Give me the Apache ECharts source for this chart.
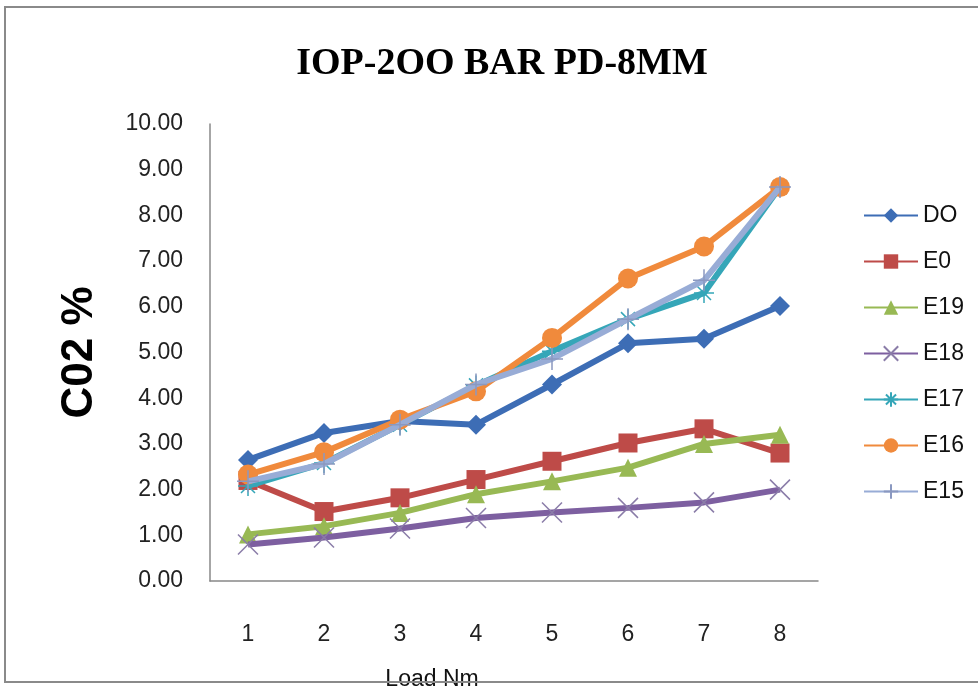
<!DOCTYPE html>
<html>
<head>
<meta charset="utf-8">
<script src="https://cdn.jsdelivr.net/npm/echarts@6/dist/echarts.min.js"></script>
<style>html,body{margin:0;padding:0;background:#fff}#c{width:978px;height:692px}</style>
</head>
<body>
<div id="c"></div>
<script>
const categories = ['1','2','3','4','5','6','7','8'];
const seriesNames = ['DO','E0','E19','E18','E17','E16','E15'];
const DO  = [2.65, 3.24, 3.5, 3.42, 4.3, 5.2, 5.3, 6.02];
const E0  = [2.2, 1.52, 1.82, 2.22, 2.62, 3.02, 3.33, 2.8];
const E19 = [1.02, 1.2, 1.49, 1.9, 2.18, 2.48, 3.0, 3.2];
const E18 = [0.8, 0.95, 1.15, 1.38, 1.5, 1.6, 1.72, 2.0];
const E17 = [2.08, 2.58, 3.42, 4.28, 5.03, 5.73, 6.3, 8.62];
const E16 = [2.33, 2.82, 3.53, 4.15, 5.32, 6.62, 7.32, 8.62];
const E15 = [2.18, 2.56, 3.42, 4.3, 4.86, 5.73, 6.58, 8.62];
const yTicks = ['0.00','1.00','2.00','3.00','4.00','5.00','6.00','7.00','8.00','9.00','10.00'];

const colors = ['#3d6db5', '#be4b48', '#98b954', '#7d5fa0', '#35a6b8', '#f08a3c', '#98acd6'];
const xPath = 'path://M0,0L10,10M10,0L0,10';
const starPath = 'path://M5,0L5,10M0,5L10,5M1.5,1.5L8.5,8.5M8.5,1.5L1.5,8.5';
const plusPath = 'path://M5,0L5,10M0,5L10,5';
const symbols = ['diamond', 'rect', 'triangle', xPath, starPath, 'circle', plusPath];
const sizes = [20, 19, 18, 20, 20, 20, 22];
const dataArr = [DO, E0, E19, E18, E17, E16, E15];
const markerColors = ['#3d6db5', '#be4b48', '#98b954', '#8a7ca8', '#35a6b8', '#f08a3c', '#8a98c0'];

const series = seriesNames.map((n, i) => {
  const isPath = symbols[i].startsWith('path');
  return {
    name: n,
    type: 'line',
    data: dataArr[i],
    symbol: symbols[i],
    symbolSize: sizes[i],
    showAllSymbol: true,
    lineStyle: { color: colors[i], width: 6 },
    itemStyle: isPath
      ? { color: 'rgba(0,0,0,0)', borderColor: markerColors[i], borderWidth: 1.5 }
      : { color: colors[i], borderWidth: 0 },
    z: 2 + i
  };
});

const chart = echarts.init(document.getElementById('c'));
chart.setOption({
  animation: false,
  backgroundColor: '#fff',
  title: {
    text: 'IOP-2OO BAR PD-8MM',
    left: 497, top: 40, textAlign: 'center',
    textStyle: { fontFamily: 'Liberation Serif', fontWeight: 'bold', fontSize: 38, color: '#000' }
  },
  grid: { left: 210, right: 160, top: 124, bottom: 111, containLabel: false, outerBoundsMode: 'none' },
  legend: {
    orient: 'vertical', left: 858, top: 199,
    itemWidth: 54, itemHeight: 18, itemGap: 23,
    data: seriesNames,
    textStyle: { fontFamily: 'Liberation Sans', fontSize: 23, color: '#111' }
  },
  xAxis: {
    type: 'category', data: categories, boundaryGap: true,
    name: 'Load Nm', nameLocation: 'middle', nameGap: 87,
    nameTextStyle: { fontFamily: 'Liberation Sans', fontSize: 23, color: '#111', padding: [0, 164, 0, 0] },
    axisLine: { lineStyle: { color: '#888', width: 1.5 } },
    axisTick: { show: false },
    axisLabel: { margin: 42, fontFamily: 'Liberation Sans', fontSize: 23, color: '#222' },
    splitLine: { show: false }
  },
  yAxis: {
    type: 'value', min: 0, max: 10, interval: 1,
    name: 'C02 %', nameLocation: 'middle', nameGap: 108, nameRotate: 90,
    nameTextStyle: { fontFamily: 'Liberation Sans', fontWeight: 'bold', fontSize: 44, color: '#000' },
    axisLine: { show: true, lineStyle: { color: '#888', width: 1.5 } },
    axisTick: { show: false },
    splitLine: { show: false },
    axisLabel: { margin: 27, fontFamily: 'Liberation Sans', fontSize: 23, color: '#222',
      formatter: (v) => yTicks[Math.round(v)] }
  },
  graphic: [{
    type: 'rect', z: 100, silent: true,
    shape: { x: 5, y: 7, width: 985, height: 675 },
    style: { fill: 'none', stroke: '#8a8a8a', lineWidth: 2 }
  }],
  series: series
});
</script>
</body>
</html>
